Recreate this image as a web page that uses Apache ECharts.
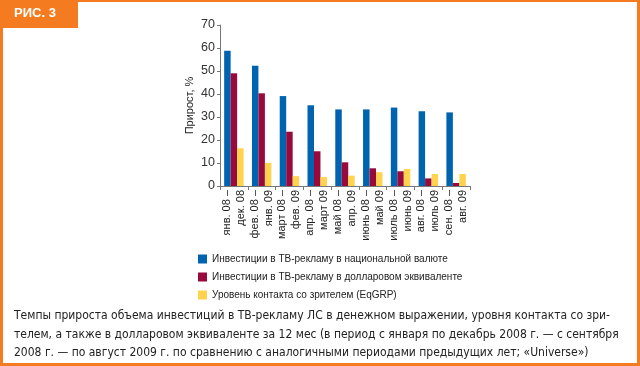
<!DOCTYPE html>
<html>
<head>
<meta charset="utf-8">
<script src="https://cdn.jsdelivr.net/npm/echarts@6/dist/echarts.min.js"></script>
<style>
html,body{margin:0;padding:0;background:#fff;}
#c{width:640px;height:366px;}
</style>
</head>
<body>
<div id="c"></div>
<script>
var categories = [
  "янв. 08 –\nдек. 08",
  "фев. 08 –\nянв. 09",
  "март 08 –\nфев. 09",
  "апр. 08 –\nмарт 09",
  "май 08 –\nапр. 09",
  "июнь 08 –\nмай 09",
  "июль 08 –\nиюнь 09",
  "авг. 08 –\nиюль 09",
  "сен. 08 –\nавг. 09"
];
var seriesNames = [
  "Инвестиции в ТВ-рекламу в национальной валюте",
  "Инвестиции в ТВ-рекламу в долларовом эквиваленте",
  "Уровень контакта со зрителем (EqGRP)"
];
var nationalCurrency = [58.8, 52.3, 39.1, 35.1, 33.3, 33.3, 34.1, 32.5, 32.0];
var dollarEquivalent = [49.0, 40.3, 23.6, 15.1, 10.3, 7.7, 6.4, 3.3, 1.3];
var eqGRP = [16.4, 10.0, 4.3, 3.9, 4.5, 6.0, 7.4, 5.2, 5.2];
var yTicks = [0, 10, 20, 30, 40, 50, 60, 70];
var captionLines = [
  "Темпы прироста объема инвестиций в ТВ-рекламу ЛС в денежном выражении, уровня контакта со зри-",
  "телем, а также в долларовом эквиваленте за 12 мес (в период с января по декабрь 2008 г. — с сентября",
  "2008 г. — по август 2009 г. по сравнению с аналогичными периодами предыдущих лет; «Universe»)"
];
var figLabel = "РИС. 3";

var orange = "#F47B20";
var colors = ["#0063B0", "#990A3C", "#FFD34E"];
var font = "Liberation Sans, Arial, sans-serif";

var chart = echarts.init(document.getElementById('c'), null, {renderer: 'canvas'});

var graphics = [
  {type: 'rect', shape: {x: 0, y: 0, width: 640, height: 2}, style: {fill: orange}, silent: true},
  {type: 'rect', shape: {x: 0, y: 0, width: 3, height: 366}, style: {fill: orange}, silent: true},
  {type: 'rect', shape: {x: 637, y: 0, width: 3, height: 366}, style: {fill: orange}, silent: true},
  {type: 'rect', shape: {x: 0, y: 363, width: 640, height: 3}, style: {fill: orange}, silent: true},
  {type: 'rect', shape: {x: 0, y: 0, width: 78, height: 28}, style: {fill: orange}, silent: true},
  {type: 'text', x: 14, y: 13, style: {text: figLabel, fill: '#fff', font: 'bold 13px ' + font, verticalAlign: 'middle'}, silent: true}
];
var capY = [316, 335, 353];
captionLines.forEach(function (t, i) {
  graphics.push({type: 'text', x: 14, y: capY[i], style: {text: t, fill: '#222', font: '12px "DejaVu Sans Condensed", "DejaVu Sans", sans-serif', verticalAlign: 'middle'}, silent: true});
});

chart.setOption({
  animation: false,
  backgroundColor: '#fff',
  color: colors,
  textStyle: {fontFamily: font},
  grid: {left: 220, top: 25, width: 250, height: 161, containLabel: false},
  legend: {
    orient: 'vertical', left: 193, top: 249, itemWidth: 9, itemHeight: 9, itemGap: 8,
    icon: 'rect',
    textStyle: {fontSize: 10, color: '#222', fontFamily: font},
    data: seriesNames
  },
  xAxis: {
    type: 'category', data: categories,
    axisLine: {lineStyle: {color: '#777', width: 1}},
    axisTick: {show: true, length: 4, lineStyle: {color: '#777'}},
    axisLabel: {rotate: 90, interval: 0, fontSize: 11, lineHeight: 14, color: '#222', margin: 4}
  },
  yAxis: {
    type: 'value', min: yTicks[0], max: yTicks[yTicks.length - 1], interval: 10,
    name: 'Прирост, %', nameLocation: 'middle', nameGap: 25,
    nameTextStyle: {fontSize: 11, color: '#222'},
    axisLine: {show: true, lineStyle: {color: '#777'}},
    axisTick: {show: true, length: 3, lineStyle: {color: '#777'}},
    axisLabel: {fontSize: 12.5, color: '#333', margin: 5},
    splitLine: {show: false}
  },
  series: [
    {name: seriesNames[0], type: 'bar', data: nationalCurrency, barGap: '0%', barCategoryGap: '30%'},
    {name: seriesNames[1], type: 'bar', data: dollarEquivalent, barGap: '0%', barCategoryGap: '30%'},
    {name: seriesNames[2], type: 'bar', data: eqGRP, barGap: '0%', barCategoryGap: '30%'}
  ],
  graphic: graphics
});
</script>
</body>
</html>
